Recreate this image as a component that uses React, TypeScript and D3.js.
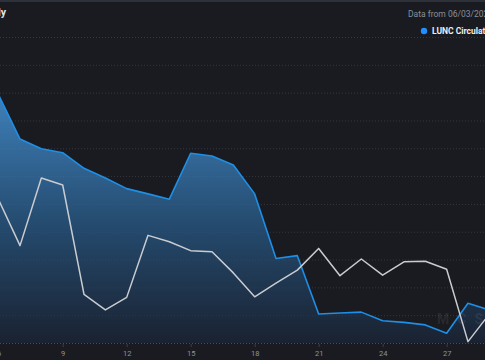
import { useEffect, useRef } from "react";
import * as d3 from "d3";

const WIDTH = 485;
const HEIGHT = 360;

const DAYS: number[] = [6, 7, 8, 9, 10, 11, 12, 13, 14, 15, 16, 17, 18, 19, 20, 21, 22, 23, 24, 25, 26, 27, 28, 29];
const SUPPLY: number[] = [8.91, 7.33, 6.98, 6.84, 6.28, 5.93, 5.55, 5.36, 5.17, 6.82, 6.72, 6.4, 5.36, 3.04, 3.14, 1.04, 1.08, 1.11, 0.8, 0.74, 0.65, 0.35, 1.43, 1.19];
const PRICE: number[] = [5.14, 3.5, 5.93, 5.68, 1.75, 1.19, 1.64, 3.87, 3.64, 3.32, 3.28, 2.52, 1.66, 2.15, 2.62, 3.4, 2.42, 3.02, 2.44, 2.92, 2.94, 2.65, 0.05, 1.04];
const X_TICKS: number[] = [6, 9, 12, 15, 18, 21, 24, 27];
const GRID: number[] = [1, 2, 3, 4, 5, 6, 7, 8, 9, 10, 11];

const FONT = "Roboto, 'DejaVu Sans', sans-serif";

const App = () => {
  const svgRef = useRef<SVGSVGElement | null>(null);

  useEffect(() => {
    if (!svgRef.current) return;
    const svg = d3.select(svgRef.current);
    svg.selectAll("*").remove();

    const DATA = DAYS.map((d, i) => ({ x: d, a: SUPPLY[i], b: PRICE[i] }));

    const scaleX = d3.scaleLinear().domain([6, 29]).range([-1.3, 489.3]);
    const scaleY = d3.scaleLinear().domain([0, 11]).range([343, 37]);

    svg.append("rect").attr("width", WIDTH).attr("height", HEIGHT).attr("fill", "#1a1b20");
    svg.append("rect").attr("width", WIDTH).attr("height", 2).attr("fill", "#2c313a");

    // gradient for the area
    const defs = svg.append("defs");
    const grad = defs
      .append("linearGradient")
      .attr("id", "areaGrad")
      .attr("gradientUnits", "userSpaceOnUse")
      .attr("x1", 0)
      .attr("x2", 0)
      .attr("y1", 90)
      .attr("y2", 343);
    grad.append("stop").attr("offset", "0%").attr("stop-color", "#3f82bd");
    grad.append("stop").attr("offset", "55%").attr("stop-color", "#24496c");
    grad.append("stop").attr("offset", "100%").attr("stop-color", "#1a2231");

    // grid
    svg
      .append("g")
      .selectAll("line")
      .data(GRID)
      .join("line")
      .attr("x1", 0)
      .attr("x2", WIDTH)
      .attr("y1", (d) => scaleY(d) + 0.5)
      .attr("y2", (d) => scaleY(d) + 0.5)
      .attr("stroke", "#2a2e36")
      .attr("stroke-width", 1)
      .attr("stroke-dasharray", "1,2");

    const area = d3
      .area<{ x: number; a: number }>()
      .x((d) => scaleX(d.x))
      .y0(scaleY(0))
      .y1((d) => scaleY(d.a));
    svg.append("path").datum(DATA).attr("fill", "url(#areaGrad)").attr("d", area);

    // grid over area (faint)
    svg
      .append("g")
      .selectAll("line")
      .data(GRID)
      .join("line")
      .attr("x1", 0)
      .attr("x2", WIDTH)
      .attr("y1", (d) => scaleY(d) + 0.5)
      .attr("y2", (d) => scaleY(d) + 0.5)
      .attr("stroke", "rgba(255,255,255,0.05)")
      .attr("stroke-dasharray", "1,2");

    // watermark
    svg
      .append("text")
      .attr("x", 437)
      .attr("y", 324)
      .attr("fill", "rgba(255,255,255,0.08)")
      .attr("font-family", FONT)
      .attr("font-size", 14)
      .attr("font-weight", "bold")
      .attr("letter-spacing", 8)
      .text("MCS");

    const lineA = d3
      .line<{ x: number; a: number }>()
      .x((d) => scaleX(d.x))
      .y((d) => scaleY(d.a));
    svg
      .append("path")
      .datum(DATA)
      .attr("fill", "none")
      .attr("stroke", "#1e8fe6")
      .attr("stroke-width", 1.6)
      .attr("stroke-linejoin", "round")
      .attr("d", lineA);

    const lineB = d3
      .line<{ x: number; b: number }>()
      .x((d) => scaleX(d.x))
      .y((d) => scaleY(d.b));
    svg
      .append("path")
      .datum(DATA)
      .attr("fill", "none")
      .attr("stroke", "#c9ccd1")
      .attr("stroke-width", 1.5)
      .attr("stroke-linejoin", "round")
      .attr("d", lineB);

    // x axis
    svg
      .append("line")
      .attr("x1", 0)
      .attr("x2", WIDTH)
      .attr("y1", 343.5)
      .attr("y2", 343.5)
      .attr("stroke", "#35536b")
      .attr("stroke-dasharray", "1,2");
    const ax = svg
      .append("g")
      .attr("transform", `translate(0, 344)`)
      .call(d3.axisBottom(scaleX).tickValues(X_TICKS).tickSize(3).tickPadding(4).tickFormat(d3.format("d")));
    ax.select(".domain").remove();
    ax.selectAll(".tick line").attr("stroke", "#3a3f47");
    ax.selectAll(".tick text").attr("fill", "#8d939b").attr("font-size", 7.5).attr("font-family", FONT);

    // title & legend
    svg
      .append("text")
      .attr("x", 6)
      .attr("y", 16)
      .attr("text-anchor", "end")
      .attr("fill", "#e2e4e8")
      .attr("font-family", FONT)
      .attr("font-size", 10.5)
      .attr("font-weight", "bold")
      .text("LUNC Circulating Supply Daily");
    svg
      .append("text")
      .attr("x", 408)
      .attr("y", 16.5)
      .attr("fill", "#8a8f97")
      .attr("font-family", FONT)
      .attr("font-size", 8.5)
      .text("Data from 06/03/2023");
    svg.append("circle").attr("cx", 424).attr("cy", 31).attr("r", 3.2).attr("fill", "#1e90ff");
    svg
      .append("text")
      .attr("x", 432)
      .attr("y", 34)
      .attr("fill", "#eceef1")
      .attr("font-family", FONT)
      .attr("font-size", 8.5)
      .attr("font-weight", "bold")
      .text("LUNC Circulating Supply");
  }, []);

  return (
    <div className="app">
      <svg ref={svgRef} width={WIDTH} height={HEIGHT} style={{ position: "fixed", left: 0, top: 0 }} />
    </div>
  );
};

export default App;
